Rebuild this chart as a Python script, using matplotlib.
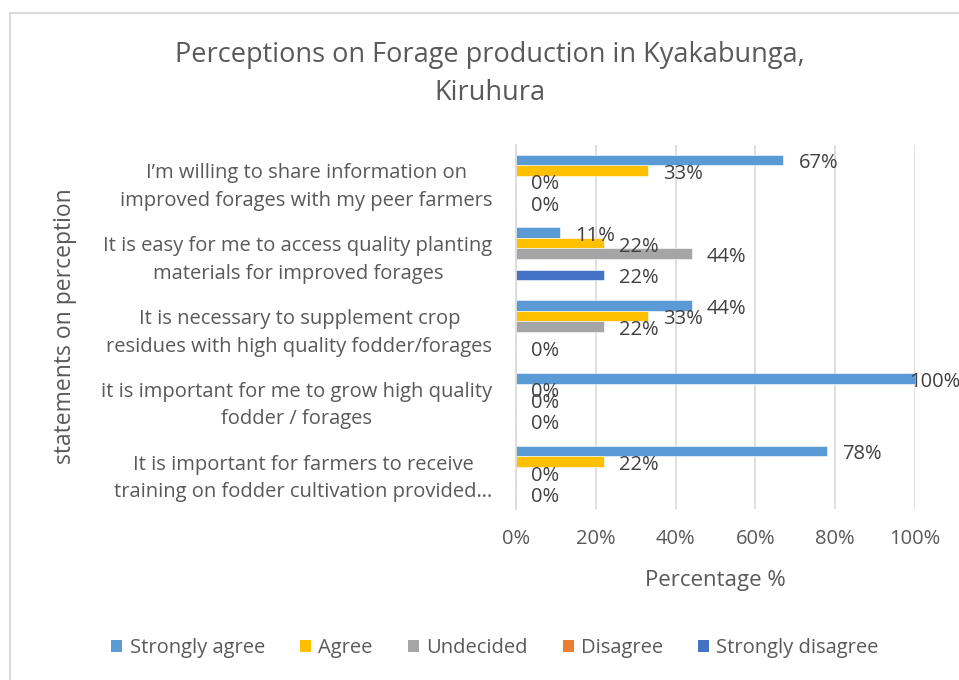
import numpy as np
import matplotlib
matplotlib.use("Agg")
import matplotlib.pyplot as plt
from matplotlib.patches import Rectangle, Patch

# categories top to bottom
categories = [
    "I\u2019m willing to share information on\nimproved forages with my peer farmers",
    "It is easy for me to access quality planting\nmaterials for improved forages",
    "It is necessary to supplement crop\nresidues with high quality fodder/forages",
    "it is important for me to grow high quality\nfodder / forages",
    "It is important for farmers to receive\ntraining on fodder cultivation provided\u2026",
]
series = ["Strongly agree", "Agree", "Undecided", "Disagree", "Strongly disagree"]
colors = ["#5B9BD5", "#FFC000", "#A5A5A5", "#ED7D31", "#4472C4"]

# values in percent, None = no data
strongly_agree = [67, 11, 44, 100, 78]
agree = [33, 22, 33, 0, 22]
undecided = [0, 44, 22, 0, 0]
disagree = [None, None, None, None, None]
strongly_disagree = [0, 22, 0, 0, 0]
values = [strongly_agree, agree, undecided, disagree, strongly_disagree]

xticks = [0, 20, 40, 60, 80, 100]
xtick_labels = ["0%", "20%", "40%", "60%", "80%", "100%"]

plt.rcParams["font.family"] = ["Open Sans", "DejaVu Sans"]
text_color = "#595959"

fig = plt.figure(figsize=(9.59, 6.8), dpi=100)
fig.patches.append(Rectangle((10 / 959, -0.1), 1.2, (680 - 13) / 680 + 0.1,
                             transform=fig.transFigure, fill=False,
                             edgecolor="#D9D9D9", linewidth=1.5))

ax = fig.add_axes([516 / 959, 1 - 508.5 / 680, (915 - 516) / 959, (508.5 - 144.6) / 680])

n = len(series)
bar_h = 0.145
y = np.arange(len(categories))
for i, (name, vals) in enumerate(zip(series, values)):
    pos = y - (n - 1) / 2 * bar_h + i * bar_h
    for p, v in zip(pos, vals):
        if v is None:
            continue
        ax.barh(p, v, height=bar_h, color=colors[i], edgecolor="white", linewidth=0.4)
        # the 100% label is pulled back so it stays inside the chart
        dx = -4 if v == 100 else 11
        ax.annotate(f"{v}%", (v, p), xytext=(dx, -2.5), textcoords="offset points",
                    ha="left", va="center", fontsize=14.5, color="#404040")

ax.set_xlim(0, 100)
ax.set_ylim(len(categories) - 0.5, -0.5)
ax.set_xticks(xticks)
ax.set_xticklabels(xtick_labels)
ax.set_yticks(y)
ax.set_yticklabels(categories, linespacing=1.5)
for lbl in ax.get_yticklabels():
    lbl.set_multialignment("center")
ax.tick_params(axis="both", length=0, labelsize=14.5, labelcolor=text_color)
ax.tick_params(axis="y", pad=17)
ax.tick_params(axis="x", pad=15)
ax.grid(axis="x", color="#D9D9D9", linewidth=1.2)
ax.set_axisbelow(True)
for s in ["top", "right", "bottom"]:
    ax.spines[s].set_visible(False)
ax.spines["left"].set_color("#D9D9D9")
ax.spines["left"].set_linewidth(1.2)

ax.set_xlabel("Percentage %", fontsize=16, color=text_color, labelpad=15)
fig.text(65 / 959, 1 - 326 / 680, "statements on perception", rotation=90,
         ha="center", va="center", fontsize=16.5, color=text_color)

fig.text(490 / 959, 1 - 74 / 680, "Perceptions on Forage production in Kyakabunga,\nKiruhura",
         ha="center", va="center", fontsize=19.5, color=text_color, linespacing=1.45)

handles = [Patch(facecolor=c, edgecolor="none") for c in colors]
fig.legend(handles, series, loc="center", bbox_to_anchor=(495 / 959, 1 - 648 / 680),
           ncol=5, frameon=False, fontsize=14.5, labelcolor=text_color,
           handlelength=0.55, handleheight=0.55, handletextpad=0.35, columnspacing=1.75)

fig.savefig("out.png", dpi=100)
